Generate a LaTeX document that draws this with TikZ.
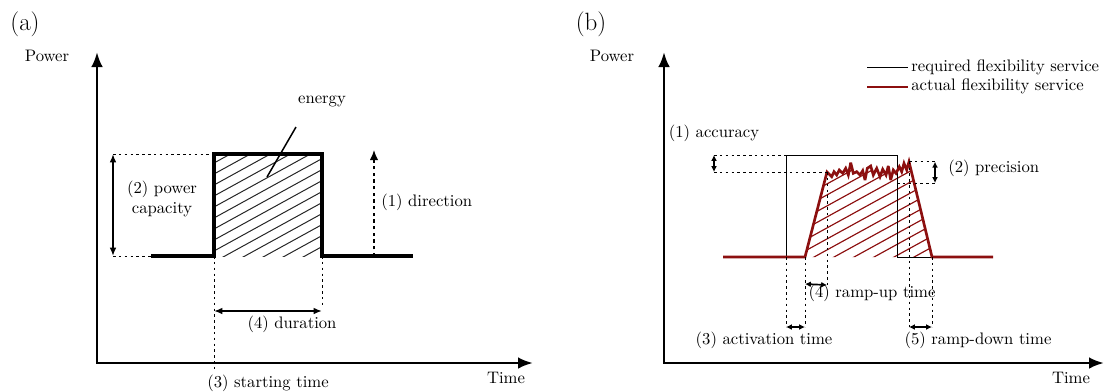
\documentclass[tikz,border=0pt]{standalone}
\usetikzlibrary{arrows.meta}
\definecolor{redline}{RGB}{140,15,15}
\begin{document}
\begin{tikzpicture}[x=0.6pt,y=-0.6pt,
  lbl/.style={inner sep=0pt,font=\fontsize{10}{12}\selectfont},
  biglbl/.style={inner sep=0pt,font=\fontsize{15}{18}\selectfont},
  axes/.style={line width=1.6pt,{Latex[length=9pt,width=7pt]}-{Latex[length=9pt,width=7pt]}},
  guide/.style={line width=0.6pt,dash pattern=on 1.5pt off 2pt},
  dimarrow/.style={line width=1pt,{Latex[length=5pt,width=4pt]}-{Latex[length=5pt,width=4pt]}},
  smallarrow/.style={line width=1pt,{Latex[length=3.5pt,width=3.5pt]}-{Latex[length=3.5pt,width=3.5pt]}},
  hatchA/.style={line width=0.6pt,black!85},
  hatchB/.style={line width=0.7pt,redline},
  pulse/.style={line width=2pt},
  required/.style={line width=0.6pt,black},
  actual/.style={line width=1.6pt,redline,line join=miter,miter limit=4},
]
\useasboundingbox (0,0) rectangle (1109,391);

% ================= Panel (a) =================
\node[biglbl] (la) at (25,24) {(a)};
\node[lbl] (powa) at (47,56) {Power};
\node[lbl] (timea) at (506,378) {Time};
\coordinate (oa) at (97,363);
\coordinate (ya) at (97,52);
\coordinate (xa) at (533,363);
\draw[axes] (ya) -- (oa) -- (xa);

\coordinate (a0) at (151,256);
\coordinate (a1) at (214,256);
\coordinate (a2) at (214,154);
\coordinate (a3) at (322,154);
\coordinate (a4) at (322,256);
\coordinate (a5) at (413,256);

\begin{scope}
  \clip (a1) rectangle (a3);
  \foreach \k in {-12,...,8} \draw[hatchA] (214+\k*20,262) -- ++(250,-137.5);
\end{scope}
\draw[pulse] (a0) -- (a1) -- (a2) -- (a3) -- (a4) -- (a5);

\node[lbl] (energy) at (322,101) {energy};
\coordinate (en1) at (296,127);
\coordinate (en2) at (267,177);
\draw[line width=0.9pt] (en1) -- (en2);

\coordinate (pc1) at (113,154);
\coordinate (pc2) at (113,256);
\draw[guide] (pc1) -- (a2);
\draw[guide] (pc2) -- (a0);
\draw[dimarrow] (pc1) -- (pc2);
\node[lbl,align=center] (pcap) at (162,199) {(2) power\\capacity};

\coordinate (d0) at (374,256);
\coordinate (d1) at (374,150);
\draw[line width=0.8pt,dash pattern=on 2pt off 2pt,-{Latex[length=6pt,width=5pt]}] (d0) -- (d1);
\node[lbl,anchor=west] (dir) at (381,202) {(1) direction};

\coordinate (st) at (214,372);
\coordinate (du) at (322,306);
\draw[guide] (a1) -- (st);
\draw[guide] (a4) -- (du);
\coordinate (du1) at (214,311);
\coordinate (du2) at (322,311);
\draw[dimarrow] (du1) -- (du2);
\node[lbl] (dur) at (292,324) {(4) duration};
\node[lbl] (start) at (268,383) {(3) starting time};

% ================= Panel (b) =================
\node[biglbl] (lb) at (591,24) {(b)};
\node[lbl] (powb) at (612,56) {Power};
\node[lbl] (timeb) at (1071,378) {Time};
\coordinate (ob) at (664,363);
\coordinate (yb) at (664,52);
\coordinate (xb) at (1104,363);
\draw[axes] (yb) -- (ob) -- (xb);

% legend
\coordinate (lg1a) at (867,67);
\coordinate (lg1b) at (908,67);
\draw[required] (lg1a) -- (lg1b);
\node[lbl,anchor=west] (leg1) at (911,67) {required flexibility service};
\coordinate (lg2a) at (867,87);
\coordinate (lg2b) at (908,87);
\draw[actual] (lg2a) -- (lg2b);
\node[lbl,anchor=west] (leg2) at (911,86) {actual flexibility service};

% curves
\coordinate (r0) at (786,257);
\coordinate (r1) at (786,155);
\coordinate (r2) at (897,155);
\coordinate (r3) at (897,257);
\coordinate (r4) at (932,257);

\coordinate (b0) at (723,257);
\coordinate (b1) at (805,257);
\coordinate (b2) at (827,172);
\coordinate (b3) at (909,161.7);
\coordinate (b4) at (932,257);
\coordinate (b5) at (993,257);

\def\noisepts{831.7/176.7,834/171.7,836.7/175,839.3/170,842.7/173.3,845.7/168.3,848.3/175,850.7/162.7,853.3/173.3,856.7/171.7,860/175,862.7/170.7,865/180,867.3/168.3,870.7/166,873.3/175,876.7/168.3,880/176.7,882.7/169.3,886/175,888.3/166,890.7/180,893.3/170,896/173.3,899.3/166.7,901.7/171.7,904/163.3,906.7/170}

\begin{scope}
  \clip (b1) -- (b2) \foreach \x/\y in \noisepts {-- (\x,\y)} -- (b3) -- (b4) -- cycle;
  \foreach \k in {-12,...,8} \draw[hatchB] (805+\k*20,262) -- ++(250,-137.5);
\end{scope}

\draw[required] (r0) -- (r1) -- (r2) -- (r3) -- (r4);
\draw[actual] (b0) -- (b1) -- (b2) \foreach \x/\y in \noisepts {-- (\x,\y)} -- (b3) -- (b4) -- (b5);

% accuracy
\coordinate (ac1) at (714,155);
\coordinate (ac2) at (714,172);
\draw[guide] (ac1) -- (r1);
\draw[guide] (ac2) -- (b2);
\draw[smallarrow] (ac1) -- (ac2);
\node[lbl] (acc) at (714,133) {(1) accuracy};

% precision
\coordinate (pr1) at (935,161.7);
\coordinate (pr0) at (897,183);
\coordinate (pr2) at (935,183);
\draw[guide] (b3) -- (pr1);
\draw[guide] (pr0) -- (pr2);
\draw[smallarrow] (pr1) -- (pr2);
\node[lbl,anchor=west] (prec) at (948,168) {(2) precision};

% time marks
\coordinate (v1) at (786,327);
\coordinate (v2) at (805,327);
\coordinate (v3) at (827,285);
\coordinate (v4) at (909,327);
\coordinate (v5) at (932,327);
\coordinate (u2) at (805,284);
\draw[guide] (r0) -- (v1);
\draw[guide] (b1) -- (v2);
\draw[guide] (b2) -- (v3);
\draw[guide] (b3) -- (v4);
\draw[guide] (b4) -- (v5);
\draw[smallarrow] (u2) -- (v3);
\draw[smallarrow] (v1) -- (v2);
\draw[smallarrow] (v4) -- (v5);
\node[lbl] (ramp) at (872,293) {(4) ramp-up time};
\node[lbl] (act) at (764,340) {(3) activation time};
\node[lbl] (rdown) at (978,340) {(5) ramp-down time};
\end{tikzpicture}
\end{document}
